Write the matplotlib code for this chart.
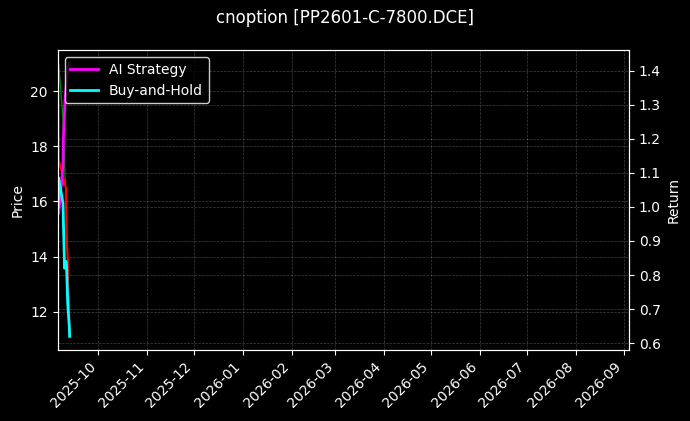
import numpy as np
import pandas as pd
import matplotlib
matplotlib.use("Agg")
import matplotlib.pyplot as plt
import matplotlib.dates as mdates

# -------------------------------------------------
#   Datos (barras intradia, 5 dias de negociacion)
# -------------------------------------------------
tiempos = pd.to_datetime([
    "2025-09-05 09:00", "2025-09-05 15:00",
    "2025-09-08 09:00", "2025-09-08 15:00",
    "2025-09-09 09:00", "2025-09-09 15:00",
    "2025-09-10 09:00", "2025-09-10 15:00",
    "2025-09-11 09:00", "2025-09-11 15:00",
    "2025-09-12 09:00", "2025-09-12 15:00",
])

precio = [20.0, 17.5, 16.9, 16.6, 16.8, 16.6, 16.5, 14.7, 14.0, 13.0, 11.6, 11.1]
precio_ref = [19.5, 21.0, 19.0, 18.5, 17.5, 17.0, 16.0, 15.0, 13.9, 13.0, 11.8, 11.3]

ret_ai = [1.00, 0.98, 1.12, 1.20, 1.28, 1.31, 1.35, 1.37, 1.40, 1.41, 1.42, 1.42]
ret_bh = [1.00, 1.085, 1.01, 0.96, 0.82, 0.84, 0.84, 0.83, 0.72, 0.70, 0.65, 0.62]

titulo = "cnoption [PP2601-C-7800.DCE]"
x_ini = pd.Timestamp("2025-09-05")
x_fin = pd.Timestamp("2026-09-04")

# -------------------------------------------------
#   Grafica
# -------------------------------------------------
plt.style.use("dark_background")
fig = plt.figure(figsize=(6.9, 4.21), dpi=100, facecolor="black")
ax1 = fig.add_axes([0.0836, 0.1686, 0.828, 0.7125])
ax1.set_facecolor("black")

ax1.plot(tiempos, precio_ref, color="green", linewidth=1)
ax1.plot(tiempos, precio, color="red", linewidth=1.5)
ax1.set_ylabel("Price")
ax1.grid(True, color="gray", linestyle="--", linewidth=0.5, alpha=0.5)

ax2 = ax1.twinx()
ax2.plot(tiempos, ret_ai, color="magenta", linewidth=2, label="AI Strategy")
ax2.plot(tiempos, ret_bh, color="cyan", linewidth=2, label="Buy-and-Hold")
ax2.set_ylabel("Return")
ax2.grid(True, color="gray", linestyle="--", linewidth=0.5, alpha=0.5)

ax1.set_xlim(x_ini, x_fin)
ax1.xaxis.set_major_locator(mdates.MonthLocator())
ax1.xaxis.set_major_formatter(mdates.DateFormatter("%Y-%m"))
plt.setp(ax1.get_xticklabels(), rotation=45, ha="right")

leg = ax2.legend(loc="upper left", facecolor="black", edgecolor="white")
fig.suptitle(titulo, fontsize=12, y=0.978)

fig.savefig("out.png", dpi=100, facecolor="black")
